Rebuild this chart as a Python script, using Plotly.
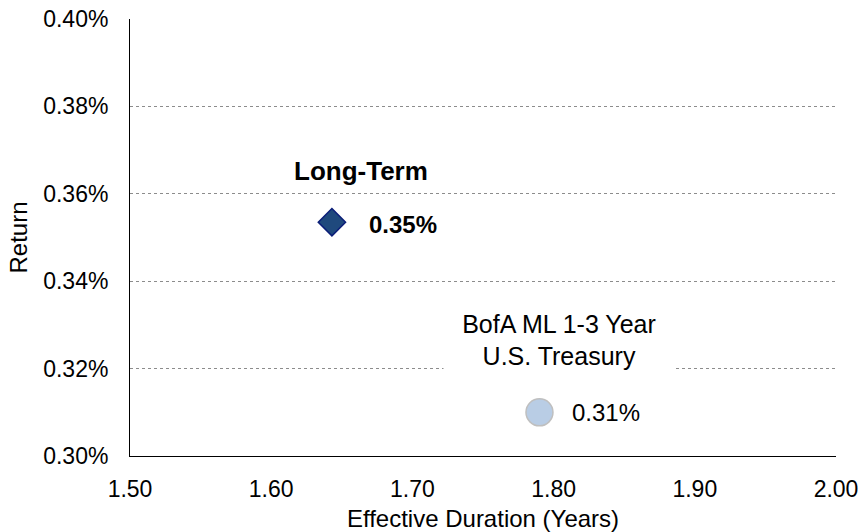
import plotly.graph_objects as go

# Risk/return points: effective duration (years) vs. return (%)
names = ["Long-Term", "BofA ML 1-3 Year<br>U.S. Treasury"]
durations = [1.643, 1.790]
returns = [0.3535, 0.310]
marker_symbols = ["diamond", "circle"]
marker_fills = ["#1F497D", "#B9CDE5"]
marker_edges = ["#0B1E78", "#BFBFBF"]
marker_sizes = [21, 27]

# Axis ticks
x_ticks = [1.50, 1.60, 1.70, 1.80, 1.90, 2.00]
x_tick_labels = ["1.50", "1.60", "1.70", "1.80", "1.90", "2.00"]
y_ticks = [0.30, 0.32, 0.34, 0.36, 0.38, 0.40]
y_tick_labels = ["0.30%", "0.32%", "0.34%", "0.36%", "0.38%", "0.40%"]

FONT = "Liberation Sans, Arial, sans-serif"

fig = go.Figure()
for i in range(len(names)):
    fig.add_trace(go.Scatter(
        x=[durations[i]], y=[returns[i]], mode="markers",
        marker=dict(symbol=marker_symbols[i], size=marker_sizes[i],
                    color=marker_fills[i],
                    line=dict(color=marker_edges[i], width=1.5)),
        showlegend=False, hoverinfo="skip",
    ))

# Name labels
fig.add_annotation(x=durations[0], y=returns[0], text="<b>" + names[0] + "</b>",
                   showarrow=False, xanchor="center", yanchor="middle",
                   xshift=29, yshift=51,
                   font=dict(family=FONT, size=26, color="#000000"))
fig.add_annotation(x=durations[1], y=returns[1], text=names[1],
                   showarrow=False, xanchor="center", yanchor="middle",
                   xshift=20, yshift=72, width=230, height=72,
                   bgcolor="#FFFFFF", borderpad=0,
                   font=dict(family=FONT, size=25, color="#000000"))

# Value labels
fig.add_annotation(x=durations[0], y=returns[0], text=f"<b>{returns[0]:.2f}%</b>",
                   showarrow=False, xanchor="left", yanchor="middle",
                   xshift=35, yshift=-2,
                   font=dict(family=FONT, size=24, color="#000000"))
fig.add_annotation(x=durations[1], y=returns[1], text=f"{returns[1]:.2f}%",
                   showarrow=False, xanchor="left", yanchor="middle",
                   xshift=31, yshift=0,
                   font=dict(family=FONT, size=24, color="#000000"))

fig.update_layout(
    width=861, height=532,
    margin=dict(l=130, r=25, t=19, b=76, autoexpand=False),
    paper_bgcolor="#FFFFFF", plot_bgcolor="#FFFFFF",
    font=dict(family=FONT, size=23, color="#000000"),
    xaxis=dict(
        range=[1.50, 2.00], tickvals=x_ticks, ticktext=x_tick_labels,
        showgrid=False, zeroline=False, showline=True, automargin=False,
        linecolor="#000000", linewidth=1, ticks="",
        ticklabelstandoff=12,
        tickfont=dict(family=FONT, size=23),
        title=dict(text="Effective Duration (Years)", standoff=12,
                   font=dict(family=FONT, size=24)),
    ),
    yaxis=dict(
        range=[0.30, 0.40], tickvals=y_ticks, ticktext=y_tick_labels,
        showgrid=True, gridcolor="#8C8C8C", gridwidth=1, griddash="dot",
        zeroline=False, showline=True, linecolor="#000000", linewidth=1,
        ticks="", ticklabelstandoff=16, automargin=False,
        tickfont=dict(family=FONT, size=23),
        title=dict(text="Return", standoff=8,
                   font=dict(family=FONT, size=24)),
    ),
)

fig.write_html("out.html")
